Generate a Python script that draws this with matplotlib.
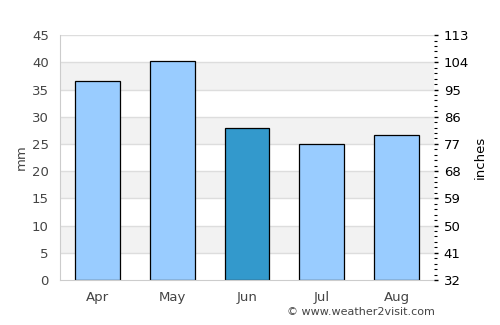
import matplotlib

matplotlib.use("Agg")
import matplotlib.pyplot as plt
import numpy as np

months = ["Apr", "May", "Jun", "Jul", "Aug"]
rain_mm = [36.5, 40.2, 27.9, 24.9, 26.6]
bar_colors = ["#99ccff", "#99ccff", "#3399cc", "#99ccff", "#99ccff"]
mm_ticks = [0, 5, 10, 15, 20, 25, 30, 35, 40, 45]
right_labels = ["32", "41", "50", "59", "68", "77", "86", "95", "104", "113"]

fig = plt.figure(figsize=(5, 3.25), dpi=100)
ax = fig.add_axes([0.12, 0.1385, 0.748, 0.7535])

# alternating grey bands
for lo in range(5, 45, 10):
    ax.axhspan(lo, lo + 5, color="#f2f2f2", lw=0, zorder=0)
for t in mm_ticks[1:]:
    ax.axhline(t, color="#dddddd", lw=1, zorder=0.5)

x = np.arange(len(months))
ax.bar(x, rain_mm, width=0.6, color=bar_colors, edgecolor="black", linewidth=0.9, zorder=2)

ax.set_xlim(-0.5, len(months) - 0.5)
ax.set_ylim(0, 45)
ax.set_yticks(mm_ticks)
ax.set_xticks(x, months)
ax.tick_params(axis="both", colors="#444444", labelsize=9.5, length=0)
ax.tick_params(axis="y", pad=8)
ax.tick_params(axis="x", pad=8)
for side in ["top", "right"]:
    ax.spines[side].set_visible(False)
for side in ["left", "bottom"]:
    ax.spines[side].set_color("#cccccc")
ax.set_ylabel("mm", color="#444444", fontsize=9.5, labelpad=3)

ax2 = ax.twinx()
ax2.set_ylim(0, 45)
ax2.set_yticks(mm_ticks, right_labels)
ax2.set_yticks(np.arange(0, 46, 1), minor=True)
ax2.tick_params(axis="y", which="major", length=3, width=1, colors="black", labelsize=9.5, pad=4)
ax2.tick_params(axis="y", which="minor", length=2, width=0.8, colors="black")
for side in ["top", "right", "left", "bottom"]:
    ax2.spines[side].set_visible(False)
ax2.set_ylabel("inches", color="black", fontsize=9.5, labelpad=3)

fig.text(0.87, 0.025, "© www.weather2visit.com", ha="right", va="bottom", fontsize=8, color="#444444")

fig.savefig("out.png", dpi=100)
